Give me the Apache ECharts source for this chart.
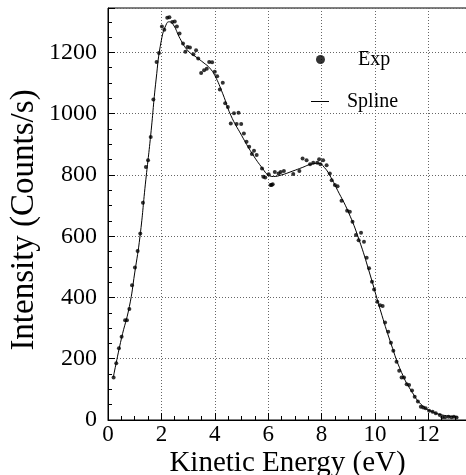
<!DOCTYPE html>
<html>
<head>
<meta charset="utf-8">
<script src="https://cdn.jsdelivr.net/npm/echarts@6/dist/echarts.min.js"></script>
<style>html,body{margin:0;padding:0;background:#fff}#c{width:466px;height:475px}</style>
</head>
<body>
<div id="c"></div>
<script>
var expX = [0.21,0.31,0.41,0.51,0.64,0.71,0.80,0.90,1.01,1.11,1.21,1.31,1.42,1.50,1.60,1.70,1.82,1.91,2.02,2.11,2.22,2.30,2.41,2.50,2.58,2.68,2.81,2.90,2.98,3.07,3.20,3.30,3.38,3.49,3.60,3.70,3.79,3.90,4.00,4.09,4.19,4.30,4.39,4.49,4.60,4.72,4.82,4.89,4.99,5.09,5.19,5.29,5.39,5.47,5.57,5.77,5.82,5.89,6.02,6.09,6.13,6.17,6.25,6.39,6.47,6.59,6.94,7.17,7.29,7.44,7.57,7.69,7.84,7.91,7.96,8.06,8.19,8.31,8.38,8.50,8.60,8.75,8.96,9.06,9.16,9.29,9.39,9.48,9.59,9.69,9.78,9.89,9.97,10.09,10.19,10.29,10.38,10.50,10.60,10.69,10.81,10.91,11.00,11.09,11.19,11.28,11.39,11.49,11.61,11.72,11.81,11.90,12.03,12.16,12.28,12.43,12.53,12.63,12.76,12.87,12.96,13.06];
var expY = [139,185,234,272,326,326,362,440,498,552,609,709,826,848,924,1046,1169,1198,1285,1274,1313,1315,1299,1301,1285,1262,1229,1202,1218,1216,1194,1207,1180,1133,1142,1147,1169,1168,1137,1122,1079,1101,1034,1022,968,1001,966,1003,966,935,908,892,868,879,865,821,794,792,802,767,767,770,810,805,810,813,803,813,854,848,835,840,840,851,835,848,832,805,783,767,763,716,683,680,647,604,587,611,582,530,495,451,426,386,375,372,318,288,252,226,190,161,139,139,117,114,96,76,60,43,41,38,30,27,22,16,9,9,11,9,11,8];
var splineX = [0.2,0.5,0.8,1.0,1.2,1.4,1.6,1.8,2.0,2.2,2.3,2.45,2.7,3.0,3.3,3.6,3.8,4.0,4.3,4.6,5.0,5.4,5.8,6.0,6.2,6.5,6.9,7.3,7.6,7.9,8.1,8.3,8.6,9.0,9.4,9.8,10.2,10.6,11.0,11.4,11.8,12.2,12.6,13.1];
var splineY = [140,265,370,480,600,770,930,1110,1240,1295,1300,1290,1245,1205,1185,1165,1150,1125,1065,995,930,870,820,800,795,800,812,825,835,838,825,800,750,680,590,480,360,250,155,90,45,25,15,10];
var xTicks = [0,2,4,6,8,10,12];
var yTicks = [0,200,400,600,800,1000,1200];

var FONT = "'Liberation Serif','Times New Roman',serif";
var expData = expX.map(function(x,i){return [x, expY[i]];});
var splData = splineX.map(function(x,i){return [x, splineY[i]];});

var chart = echarts.init(document.getElementById('c'), null, {renderer:'canvas'});
chart.setOption({
  animation: false,
  backgroundColor: '#fff',
  textStyle: {fontFamily: FONT, color: '#000'},
  grid: {left: 108, right: -1, top: 8, bottom: 55, show: true, borderColor: '#000', borderWidth: 1,
         containLabel: false, outerBoundsMode: 'none'},
  legend: [
    {data: [{name: 'Exp', icon: 'circle'}], left: 316, top: 49.5, itemWidth: 9, itemHeight: 9, itemGap: 0,
     textStyle: {fontFamily: FONT, fontSize: 20, color: '#000', padding: [0,0,8,28]}, padding: 0},
    {data: [{name: 'Spline', icon: 'rect'}], left: 311, top: 91.5, itemWidth: 18, itemHeight: 1, itemGap: 0,
     textStyle: {fontFamily: FONT, fontSize: 20, color: '#000', padding: [0,0,0,13]}, padding: 0}
  ],
  xAxis: {
    type: 'value', min: 0, max: 13.45, interval: 2,
    name: 'Kinetic Energy (eV)', nameLocation: 'middle', nameGap: 29, nameMoveOverlap: false,
    nameTextStyle: {fontFamily: FONT, fontSize: 29, color: '#000'},
    axisLine: {show: true, lineStyle: {color: '#000', width: 1}},
    axisTick: {show: true, inside: true, length: 7, lineStyle: {color: '#000'}},
    minorTick: {show: true, splitNumber: 4, length: 4, lineStyle: {color: '#000'}},
    axisLabel: {fontFamily: FONT, fontSize: 23, color: '#000', margin: 3, showMaxLabel: false,
      formatter: function(v){ return xTicks.indexOf(v) >= 0 ? String(v) : ''; }},
    splitLine: {show: true, lineStyle: {color: '#666', type: [1,2], width: 1}}
  },
  yAxis: {
    type: 'value', min: 0, max: 1345, interval: 200,
    name: 'Intensity (Counts/s)', nameLocation: 'middle', nameGap: 67, nameMoveOverlap: false,
    nameTextStyle: {fontFamily: FONT, fontSize: 33, color: '#000', padding: [0, 12, 0, 0]},
    axisLine: {show: true, lineStyle: {color: '#000', width: 1}},
    axisTick: {show: true, inside: true, length: 7, lineStyle: {color: '#000'}},
    minorTick: {show: true, splitNumber: 4, length: 4, lineStyle: {color: '#000'}},
    axisLabel: {fontFamily: FONT, fontSize: 24, color: '#000', margin: 11, showMaxLabel: false,
      formatter: function(v){ return yTicks.indexOf(v) >= 0 ? String(v) : ''; }},
    splitLine: {show: true, lineStyle: {color: '#666', type: [1,2], width: 1}}
  },
  series: [
    {name: 'Exp', type: 'scatter', data: expData, symbol: 'circle', symbolSize: 4,
     itemStyle: {color: '#000'}, z: 3},
    {name: 'Spline', type: 'line', data: splData, smooth: true, symbol: 'none', showSymbol: false,
     lineStyle: {color: '#000', width: 1}, itemStyle: {color: '#000'}, z: 2}
  ]
});
</script>
</body>
</html>
